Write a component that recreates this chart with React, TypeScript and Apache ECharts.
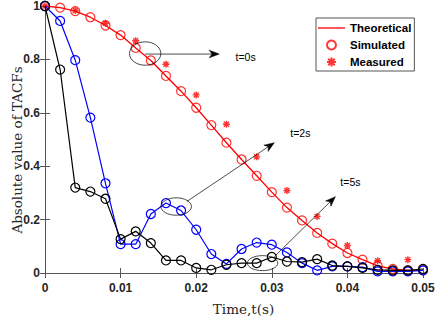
import React, { useEffect, useRef } from 'react';
import * as echarts from 'echarts';

const time = [0, 0.002, 0.004, 0.006, 0.008, 0.01, 0.012, 0.014, 0.016, 0.018, 0.02, 0.022, 0.024,
  0.026, 0.028, 0.03, 0.032, 0.034, 0.036, 0.038, 0.04, 0.042, 0.044, 0.046, 0.048, 0.05];

const theoretical0s = [1, 0.994, 0.981, 0.958, 0.927, 0.891, 0.843, 0.796, 0.738, 0.681, 0.619, 0.554, 0.488,
  0.425, 0.364, 0.303, 0.245, 0.197, 0.15, 0.11, 0.075, 0.05, 0.027, 0.015, 0.01, 0.01];

const simulated2s = [1, 0.944, 0.797, 0.582, 0.336, 0.108, 0.108, 0.221, 0.262, 0.234, 0.162, 0.071, 0.034,
  0.09, 0.114, 0.106, 0.077, 0.037, 0.01, 0.025, 0.025, 0.022, 0.006, 0.006, 0.006, 0.01];

const simulated5s = [1, 0.762, 0.32, 0.305, 0.278, 0.127, 0.156, 0.112, 0.047, 0.047, 0.019, 0.012, 0.031,
  0.037, 0.037, 0.06, 0.043, 0.041, 0.052, 0.028, 0.025, 0.019, 0.012, 0.01, 0.01, 0.015];

const measuredTime = [0, 0.004, 0.008, 0.012, 0.016, 0.02, 0.024, 0.028, 0.032, 0.036, 0.04, 0.044, 0.048];
const measured0s = [1, 0.983, 0.935, 0.87, 0.782, 0.667, 0.557, 0.435, 0.309, 0.212, 0.103, 0.046, 0.05];

const legendNames = ['Theoretical', 'Simulated', 'Measured'];
const yAxisTitle = 'Absolute value of TACFs';
const xAxisTitle = 'Time,t(s)';

// annotations in data coordinates
const annotations = [
  { center: [0.01325, 0.822], rx: 15.7, ry: 11.7, from: [0.01325, 0.82], to: [0.02305, 0.82], label: 't=0s', labelAt: [0.0252, 0.809] },
  { center: [0.01735, 0.249], rx: 15.3, ry: 8.7, from: [0.01877, 0.268], to: [0.03033, 0.488], label: 't=2s', labelAt: [0.03245, 0.524] },
  { center: [0.02878, 0.037], rx: 15.2, ry: 7.5, from: [0.03033, 0.061], to: [0.03841, 0.286], label: 't=5s', labelAt: [0.03907, 0.342] },
];

const pair = (xs: number[], ys: number[]) => xs.map((x, i) => [x, ys[i]]);

const ASTERISK = 'path://M0,-1L0,1M-1,0L1,0M-0.72,-0.72L0.72,0.72M-0.72,0.72L0.72,-0.72';
const LINE_ICON = 'path://M0,0L27,0L27,1.3L0,1.3Z';

const axisColor = '#555';
const labelFont = { fontFamily: 'Liberation Sans', fontWeight: 'bold' as const, fontSize: 12, color: '#262626' };

export default function App() {
  const ref = useRef<HTMLDivElement>(null);
  useEffect(() => {
    const chart = echarts.init(ref.current!, null, { renderer: 'svg' });
    const baseAxis = {
      type: 'value' as const,
      axisLine: { show: true, lineStyle: { color: axisColor, width: 1 } },
      axisTick: { show: true, inside: true, length: 5, lineStyle: { color: axisColor } },
      splitLine: { show: false },
    };
    chart.setOption({
      animation: false,
      backgroundColor: '#fff',
      grid: { left: 45, right: 13, top: 6, bottom: 43, containLabel: false, outerBoundsMode: 'none' },
      legend: {
        data: [
          { name: legendNames[0], icon: LINE_ICON },
          { name: legendNames[1] },
          { name: legendNames[2] },
        ],
        orient: 'vertical',
        left: 316,
        top: 18,
        backgroundColor: '#fff',
        borderColor: axisColor,
        borderWidth: 1,
        borderRadius: 0,
        padding: [4, 3, 3, 2],
        itemWidth: 27,
        itemHeight: 9,
        itemGap: 5,
        symbolKeepAspect: true,
        textStyle: { fontFamily: 'Liberation Sans', fontWeight: 'bold', fontSize: 11.5, color: '#000', lineHeight: 11 },
      },
      xAxis: [
        {
          ...baseAxis,
          position: 'bottom',
          min: 0,
          max: 0.05,
          interval: 0.01,
          axisLabel: { ...labelFont, margin: 9 },
          name: xAxisTitle,
          nameLocation: 'middle',
          nameGap: 29,
          nameTextStyle: { fontFamily: 'DejaVu Serif', fontSize: 13.5, color: '#262626', padding: [0, 0, 0, 19] },
        },
        {
          ...baseAxis,
          position: 'top',
          min: 0,
          max: 0.05,
          interval: 0.01,
          axisLabel: { show: false },
        },
      ],
      yAxis: [
        {
          ...baseAxis,
          position: 'left',
          min: 0,
          max: 1,
          interval: 0.2,
          axisLabel: { ...labelFont, margin: 5 },
        },
        {
          ...baseAxis,
          position: 'right',
          min: 0,
          max: 1,
          interval: 0.2,
          axisLabel: { show: false },
        },
      ],
      series: [
        {
          name: 'Theoretical',
          type: 'line',
          data: pair(time, theoretical0s),
          symbol: 'none',
          lineStyle: { color: '#ff0000', width: 1.3 },
          itemStyle: { color: '#ff0000' },
          z: 2,
        },
        {
          name: 'Simulated',
          type: 'scatter',
          data: pair(time, theoretical0s),
          symbol: 'circle',
          symbolSize: 9,
          itemStyle: { color: 'rgba(0,0,0,0)', borderColor: '#ff0000', borderWidth: 1.2 },
          z: 3,
        },
        {
          name: 'Measured',
          type: 'scatter',
          data: pair(measuredTime, measured0s),
          symbol: ASTERISK,
          symbolSize: 7,
          itemStyle: { color: '#ff0000', borderColor: '#ff0000', borderWidth: 1.4 },
          z: 3,
        },
        {
          name: 't=2s',
          type: 'line',
          data: pair(time, simulated2s),
          symbol: 'circle',
          symbolSize: 9,
          showAllSymbol: true,
          lineStyle: { color: '#0000ff', width: 1.2 },
          itemStyle: { color: 'rgba(0,0,0,0)', borderColor: '#0000ff', borderWidth: 1.2 },
          z: 4,
        },
        {
          name: 't=5s',
          type: 'line',
          data: pair(time, simulated5s),
          symbol: 'circle',
          symbolSize: 9,
          showAllSymbol: true,
          lineStyle: { color: '#000000', width: 1.2 },
          itemStyle: { color: 'rgba(0,0,0,0)', borderColor: '#000000', borderWidth: 1.2 },
          z: 5,
        },
      ],
    });

    const px = (v: number[]) => chart.convertToPixel({ gridIndex: 0 }, v) as number[];
    const graphics: any[] = [
      {
        type: 'text',
        x: 17,
        y: 150,
        rotation: Math.PI / 2,
        style: { text: yAxisTitle, fontFamily: 'DejaVu Serif', fontSize: 13.5, fill: '#262626', align: 'center', verticalAlign: 'middle' },
        z: 100,
      },
    ];
    annotations.forEach((a) => {
      const c = px(a.center);
      const f = px(a.from);
      const t = px(a.to);
      const lp = px(a.labelAt);
      const dx = t[0] - f[0];
      const dy = t[1] - f[1];
      const len = Math.hypot(dx, dy);
      const ux = dx / len;
      const uy = dy / len;
      const nx = -uy;
      const ny = ux;
      const L = 10;
      const W = 3.8;
      const bx = t[0] - ux * L;
      const by = t[1] - uy * L;
      const notchX = t[0] - ux * L * 0.72;
      const notchY = t[1] - uy * L * 0.72;
      graphics.push({
        type: 'ellipse',
        shape: { cx: c[0], cy: c[1], rx: a.rx, ry: a.ry },
        style: { fill: 'none', stroke: '#000', lineWidth: 0.7 },
        z: 100,
      });
      graphics.push({
        type: 'line',
        shape: { x1: f[0], y1: f[1], x2: notchX, y2: notchY },
        style: { stroke: '#000', lineWidth: 0.7 },
        z: 100,
      });
      graphics.push({
        type: 'polygon',
        shape: { points: [[t[0], t[1]], [bx + nx * W, by + ny * W], [notchX, notchY], [bx - nx * W, by - ny * W]] },
        style: { fill: '#000', stroke: '#000', lineWidth: 0.5 },
        z: 100,
      });
      graphics.push({
        type: 'text',
        x: lp[0],
        y: lp[1],
        style: { text: a.label, fontFamily: 'Liberation Sans', fontSize: 10.5, fill: '#000', verticalAlign: 'middle', align: 'left' },
        z: 100,
      });
    });
    chart.setOption({ graphic: graphics });
    return () => chart.dispose();
  }, []);
  return <div ref={ref} style={{ position: 'fixed', left: 0, top: 0, width: 436, height: 316 }} />;
}
